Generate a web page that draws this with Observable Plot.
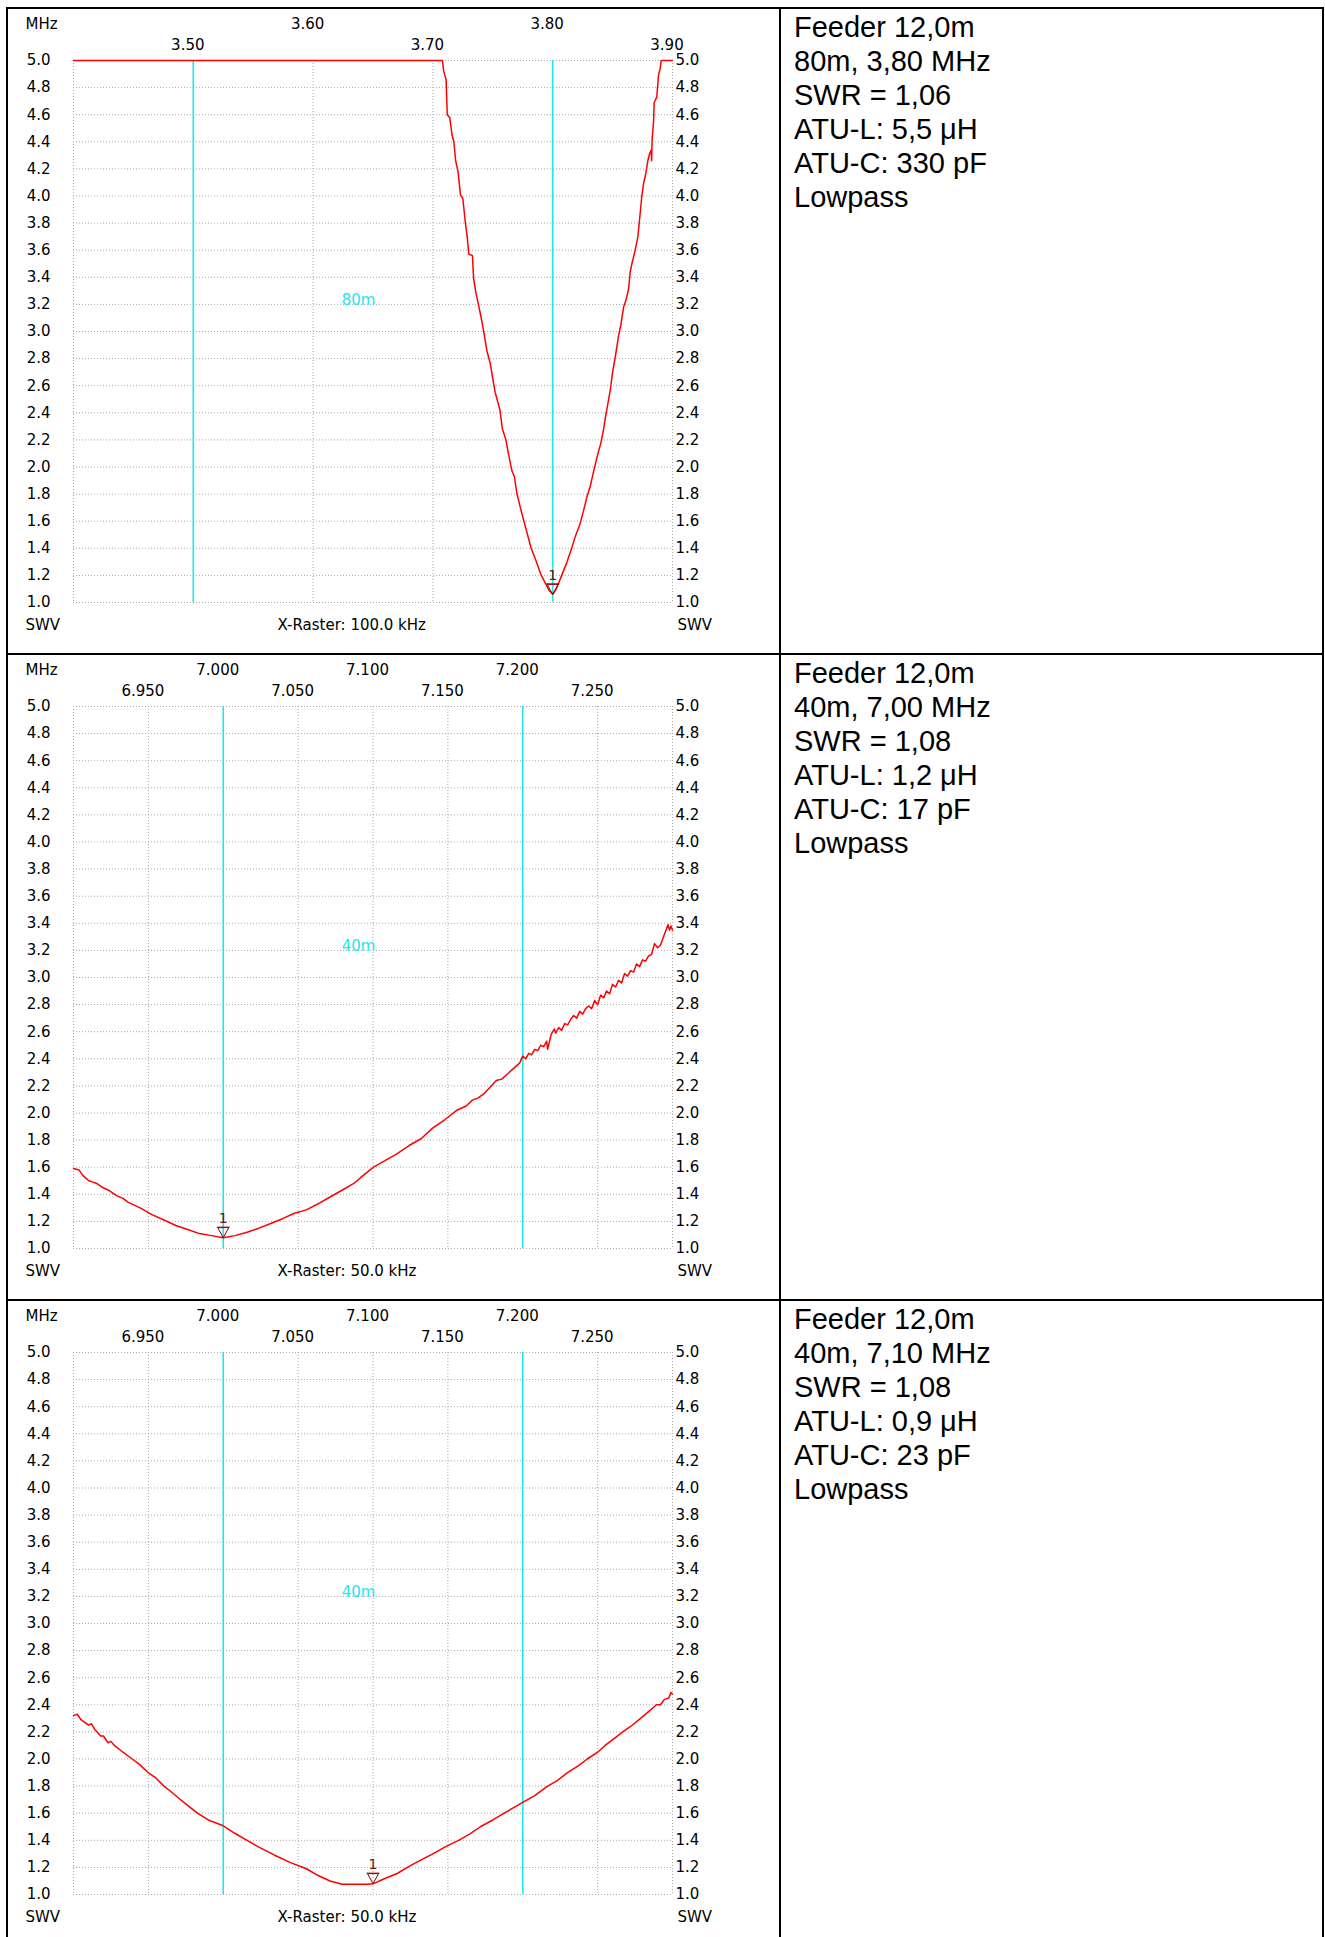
<!DOCTYPE html>
<html>
<head>
<meta charset="utf-8">
<title>SWR sweeps – Feeder 12,0m</title>
<script src="https://cdn.jsdelivr.net/npm/d3@7"></script>
<script src="https://cdn.jsdelivr.net/npm/@observablehq/plot@0.6"></script>
<style>
  html, body { margin: 0; padding: 0; background: #fff; }
  #page { position: relative; width: 1325px; height: 1937px; overflow: hidden; background: #fff; }
  .rule { position: absolute; background: #000; }
  .panel { position: absolute; left: 0; }
  .panel svg { display: block; }
  .note {
    position: absolute; left: 794px;
    font-family: "Liberation Sans", Arial, sans-serif;
    font-size: 29px; line-height: 34px; color: #000; white-space: pre;
  }
</style>
</head>
<body>
<div id="page"></div>
<script>
// ---- Sweep data: [frequency in MHz, SWR] ----
const sweep80 = [
  [3.400, 5.00], [3.708, 5.00], [3.709, 4.92], [3.711, 4.86], [3.712, 4.60], [3.714, 4.58],
  [3.716, 4.45], [3.7175, 4.40], [3.719, 4.26], [3.721, 4.18], [3.723, 4.01], [3.725, 3.98],
  [3.727, 3.81], [3.7286, 3.70], [3.730, 3.57], [3.733, 3.56], [3.734, 3.39], [3.736, 3.28],
  [3.738, 3.20], [3.741, 3.07], [3.743, 2.97], [3.745, 2.86], [3.748, 2.76], [3.750, 2.65],
  [3.752, 2.55], [3.756, 2.42], [3.758, 2.28], [3.761, 2.20], [3.763, 2.10], [3.766, 1.97],
  [3.768, 1.93], [3.770, 1.81], [3.773, 1.70], [3.776, 1.60], [3.779, 1.50], [3.782, 1.40],
  [3.786, 1.31], [3.790, 1.21], [3.794, 1.14], [3.797, 1.09], [3.800, 1.06], [3.803, 1.10],
  [3.8075, 1.20], [3.812, 1.30], [3.8158, 1.40], [3.819, 1.49], [3.8228, 1.58], [3.8258, 1.68],
  [3.8286, 1.78], [3.8314, 1.86], [3.8342, 1.97], [3.8369, 2.07], [3.8403, 2.18], [3.8425, 2.28],
  [3.8439, 2.36], [3.8461, 2.47], [3.8481, 2.57], [3.850, 2.70], [3.8522, 2.81], [3.855, 2.97],
  [3.8569, 3.05], [3.8592, 3.18], [3.8611, 3.23], [3.8633, 3.31], [3.8647, 3.44], [3.8661, 3.50],
  [3.8689, 3.60], [3.8711, 3.70], [3.8731, 3.88], [3.8744, 4.00], [3.8758, 4.09], [3.8778, 4.17],
  [3.8794, 4.26], [3.8808, 4.31], [3.8822, 4.34], [3.8826, 4.26], [3.8830, 4.42], [3.8842, 4.55],
  [3.8847, 4.69], [3.8869, 4.73], [3.8883, 4.89], [3.8897, 4.94], [3.8905, 5.00], [3.900, 5.00]
];

const sweep40a = [
  [6.900, 1.59], [6.9036, 1.58], [6.9062, 1.54], [6.9102, 1.50], [6.9130, 1.49], [6.9155, 1.48],
  [6.9195, 1.45], [6.9234, 1.43], [6.9287, 1.39], [6.9330, 1.37], [6.9366, 1.34], [6.9445, 1.30],
  [6.9524, 1.25], [6.9604, 1.21], [6.9683, 1.17], [6.9762, 1.14], [6.9841, 1.11], [6.9921, 1.095],
  [7.000, 1.08], [7.0079, 1.095], [7.0159, 1.12], [7.0238, 1.15], [7.0317, 1.185], [7.0396, 1.22],
  [7.0476, 1.26], [7.0555, 1.285], [7.0634, 1.33], [7.0713, 1.38], [7.0793, 1.43], [7.0872, 1.48],
  [7.0925, 1.53], [7.1004, 1.60], [7.1083, 1.65], [7.1162, 1.70], [7.1241, 1.76], [7.1321, 1.81],
  [7.1400, 1.89], [7.1479, 1.95], [7.1559, 2.02], [7.1620, 2.05], [7.1664, 2.095], [7.1700, 2.11],
  [7.1744, 2.145], [7.1790, 2.20], [7.1823, 2.24], [7.1860, 2.25], [7.190, 2.29], [7.193, 2.32],
  [7.196, 2.35], [7.198, 2.37], [7.200, 2.42], [7.202, 2.40], [7.204, 2.44], [7.206, 2.43],
  [7.208, 2.47], [7.210, 2.46], [7.212, 2.50], [7.214, 2.49], [7.216, 2.53], [7.2166, 2.47],
  [7.219, 2.58], [7.221, 2.62], [7.222, 2.59], [7.224, 2.63], [7.226, 2.61], [7.228, 2.66],
  [7.230, 2.65], [7.232, 2.69], [7.234, 2.72], [7.236, 2.70], [7.238, 2.75], [7.240, 2.73],
  [7.242, 2.77], [7.244, 2.79], [7.246, 2.77], [7.248, 2.83], [7.250, 2.80], [7.252, 2.87],
  [7.254, 2.85], [7.256, 2.90], [7.258, 2.88], [7.260, 2.95], [7.262, 2.93], [7.264, 2.98],
  [7.266, 2.96], [7.268, 3.03], [7.270, 3.01], [7.272, 3.05], [7.274, 3.04], [7.276, 3.10],
  [7.278, 3.08], [7.280, 3.13], [7.282, 3.12], [7.284, 3.16], [7.286, 3.17], [7.288, 3.25],
  [7.290, 3.22], [7.292, 3.24], [7.294, 3.30], [7.296, 3.36], [7.297, 3.39], [7.298, 3.35],
  [7.299, 3.38], [7.300, 3.35]
];

const sweep40b = [
  [6.900, 2.32], [6.9025, 2.33], [6.9050, 2.29], [6.9075, 2.27], [6.9100, 2.25], [6.9120, 2.26],
  [6.9141, 2.22], [6.9181, 2.17], [6.9200, 2.17], [6.9230, 2.12], [6.9250, 2.13], [6.9273, 2.10],
  [6.9330, 2.05], [6.9392, 2.00], [6.9440, 1.96], [6.9498, 1.90], [6.9550, 1.86], [6.9604, 1.80],
  [6.9650, 1.76], [6.9709, 1.705], [6.9770, 1.65], [6.9828, 1.60], [6.9900, 1.55], [7.000, 1.507],
  [7.0080, 1.45], [7.0159, 1.40], [7.0238, 1.35], [7.0343, 1.29], [7.0449, 1.235], [7.0555, 1.19],
  [7.0634, 1.14], [7.0713, 1.10], [7.0793, 1.075], [7.0964, 1.075], [7.1004, 1.08], [7.1083, 1.12],
  [7.1162, 1.155], [7.1229, 1.20], [7.1321, 1.255], [7.1400, 1.30], [7.1479, 1.35], [7.1572, 1.40],
  [7.1650, 1.45], [7.1717, 1.50], [7.1800, 1.55], [7.1876, 1.60], [7.2000, 1.68], [7.2080, 1.73],
  [7.2166, 1.80], [7.2230, 1.84], [7.2299, 1.90], [7.2370, 1.95], [7.2431, 2.00], [7.2500, 2.05],
  [7.2550, 2.10], [7.2610, 2.15], [7.2668, 2.20], [7.2720, 2.24], [7.2787, 2.30], [7.2840, 2.35],
  [7.2893, 2.40], [7.2920, 2.40], [7.2946, 2.44], [7.2975, 2.45], [7.2990, 2.49], [7.300, 2.48]
];

const sweeps = [sweep80, sweep40a, sweep40b];

// ---- Axes and scale settings ----
const xDomains = [[3.40, 3.90], [6.90, 7.30], [6.90, 7.30]];
const xGrid80 = [3.40, 3.50, 3.60, 3.70, 3.80, 3.90];
const xGrid40 = [6.900, 6.950, 7.000, 7.050, 7.100, 7.150, 7.200, 7.250, 7.300];
const xLabels80 = [3.50, 3.60, 3.70, 3.80, 3.90];
const xLabels40 = [6.950, 7.000, 7.050, 7.100, 7.150, 7.200, 7.250];
const xGrids = [xGrid80, xGrid40, xGrid40];
const xLabels = [xLabels80, xLabels40, xLabels40];
const xFormats = [".2f", ".3f", ".3f"];
const yTicks = [1.0, 1.2, 1.4, 1.6, 1.8, 2.0, 2.2, 2.4, 2.6, 2.8, 3.0,
                3.2, 3.4, 3.6, 3.8, 4.0, 4.2, 4.4, 4.6, 4.8, 5.0];

// Amateur band edges and names
const bandEdges = [[3.50, 3.80], [7.00, 7.20], [7.00, 7.20]];
const bandNames = ["80m", "40m", "40m"];
const rasterLabels = ["X-Raster: 100.0 kHz", "X-Raster: 50.0 kHz", "X-Raster: 50.0 kHz"];

// Tuning point (marker 1) of each sweep
const markerFreq = [3.80, 7.00, 7.10];
const markerSwr = [1.06, 1.08, 1.08];

// Tuner settings per sweep
const feederLabel = "Feeder 12,0m";
const bandTitles = ["80m", "40m", "40m"];
const atuL = ["5,5 μH", "1,2 μH", "0,9 μH"];
const atuC = ["330 pF", "17 pF", "23 pF"];
const filterType = ["Lowpass", "Lowpass", "Lowpass"];

// ---- Styling ----
const RED = "#ff0000";
const CYAN = "#22e6f0";
const GRID = "#a9a9a9";
const MARK = "#7c0a0a";
const PANEL_W = 779, PANEL_H = 646, PANEL_TOP = 8;

const comma = (v, d) => v.toFixed(d).replace(".", ",");

// Downward triangle with a bar on top; the tip sits on the data point.
const markerSymbol = {
  draw(context) {
    context.moveTo(0, 0);
    context.lineTo(-5.5, -10);
    context.lineTo(5.5, -10);
    context.closePath();
    context.moveTo(-6.5, -10.5);
    context.lineTo(6.5, -10.5);
  }
};

const page = document.getElementById("page");

function addRule(left, top, width, height) {
  const d = document.createElement("div");
  d.className = "rule";
  Object.assign(d.style, {left: left + "px", top: top + "px", width: width + "px", height: height + "px"});
  page.appendChild(d);
}

function drawPanel(i) {
  const data = sweeps[i].map(([f, s]) => ({f, s}));
  const fmt = d3.format(xFormats[i]);
  const upper = xLabels[i].filter((d, k) => k % 2 === 1);
  const lower = xLabels[i].filter((d, k) => k % 2 === 0);
  const marker = [{f: markerFreq[i], s: markerSwr[i]}];

  const chart = Plot.plot({
    width: PANEL_W,
    height: PANEL_H,
    marginLeft: 73,
    marginRight: 107,
    marginTop: 52,
    marginBottom: 52,
    x: {domain: xDomains[i], axis: null},
    y: {domain: [1, 5], axis: null},
    style: {
      fontFamily: "'DejaVu Sans', sans-serif",
      fontSize: "15px",
      color: "#000",
      background: "transparent",
      overflow: "visible"
    },
    marks: [
      Plot.gridX(xGrids[i], {stroke: GRID, strokeOpacity: 1, strokeDasharray: "1,2"}),
      Plot.gridY(yTicks, {stroke: GRID, strokeOpacity: 1, strokeDasharray: "1,2"}),
      Plot.ruleX(bandEdges[i], {stroke: CYAN, strokeWidth: 1.6}),
      Plot.text([bandNames[i]], {frameAnchor: "top-left", dx: 285, dy: 234, fill: CYAN, textAnchor: "middle"}),
      Plot.line(data, {x: "f", y: "s", stroke: RED, strokeWidth: 1.5}),
      Plot.dot(marker, {x: "f", y: "s", symbol: markerSymbol, stroke: MARK, strokeWidth: 1, fill: "none"}),
      Plot.text(marker, {x: "f", y: "s", text: () => "1", dy: -19, fill: MARK, fontSize: 14}),
      Plot.text(yTicks, {y: d => d, frameAnchor: "left", dx: -23, textAnchor: "end", text: d => d.toFixed(1)}),
      Plot.text(yTicks, {y: d => d, frameAnchor: "right", dx: 3, textAnchor: "start", text: d => d.toFixed(1)}),
      Plot.text(upper, {x: d => d, frameAnchor: "top", dy: -42, dx: -5.5, text: d => fmt(d)}),
      Plot.text(lower, {x: d => d, frameAnchor: "top", dy: -21, dx: -5.5, text: d => fmt(d)}),
      Plot.text(["MHz"], {frameAnchor: "top-left", dx: -48, dy: -42, textAnchor: "start", text: d => d}),
      Plot.text(["SWV"], {frameAnchor: "bottom-left", dx: -48, dy: 27, textAnchor: "start", text: d => d}),
      Plot.text(["SWV"], {frameAnchor: "bottom-right", dx: 5, dy: 27, textAnchor: "start", text: d => d}),
      Plot.text([rasterLabels[i]], {frameAnchor: "bottom-left", dx: 204, dy: 27, textAnchor: "start", text: d => d})
    ]
  });

  const top = PANEL_TOP + i * PANEL_H;
  const holder = document.createElement("div");
  holder.className = "panel";
  holder.style.top = top + "px";
  holder.appendChild(chart);
  page.appendChild(holder);

  const note = document.createElement("div");
  note.className = "note";
  note.style.top = (top + 2) + "px";
  note.textContent = [
    feederLabel,
    `${bandTitles[i]}, ${comma(markerFreq[i], 2)} MHz`,
    `SWR = ${comma(markerSwr[i], 2)}`,
    `ATU-L: ${atuL[i]}`,
    `ATU-C: ${atuC[i]}`,
    filterType[i]
  ].join("\n");
  page.appendChild(note);
}

[0, 1, 2].forEach(drawPanel);

// Table frame: outer border, column divider and row separators
addRule(6, 7, 1318, 2);
addRule(6, 653, 1318, 2);
addRule(6, 1299, 1318, 2);
addRule(6, 7, 2, 1930);
addRule(779, 7, 2, 1930);
addRule(1322, 7, 2, 1930);
</script>
</body>
</html>
